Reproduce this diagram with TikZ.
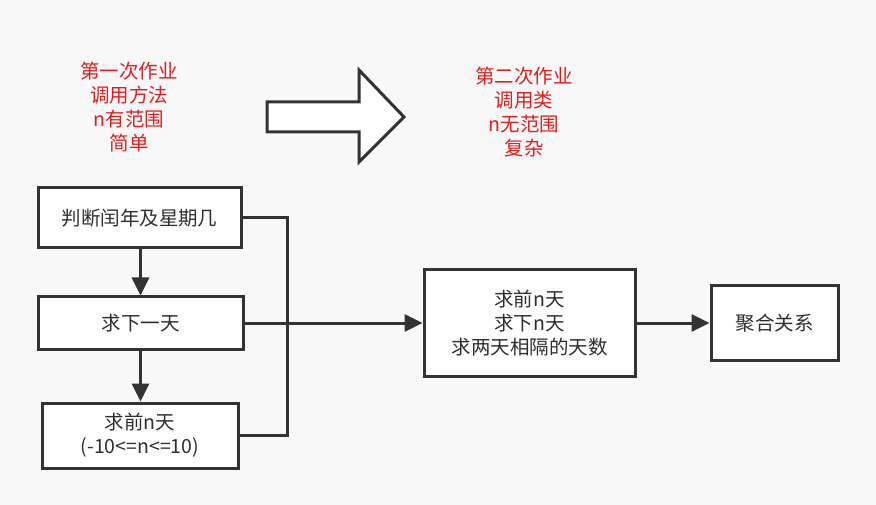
\documentclass[tikz,border=0pt]{standalone}
\usepackage{fontspec}
\setmainfont{Noto Sans CJK SC}
\usetikzlibrary{arrows.meta}
\definecolor{ln}{HTML}{333333}
\definecolor{rd}{HTML}{E51C1C}
\definecolor{bg}{HTML}{F8F8F8}
\tikzset{
  box/.style={draw=ln, fill=white, line width=3pt, align=center, inner sep=0pt,
    font=\fontsize{19.5}{24}\selectfont, text=ln!90!black},
  conn/.style={draw=ln, line width=3pt},
  arr/.style={conn, -{Triangle[length=18pt,width=17pt]}},
  note/.style={align=center, text=rd, font=\fontsize{19.5}{24}\selectfont}
}
\begin{document}
\begin{tikzpicture}[x=1pt,y=-1pt]
\fill[bg] (0,0) rectangle (876,505);
\useasboundingbox (0,0) rectangle (876,505);
% notes
\node[note] (n1) at (129,107) {第一次作业\\调用方法\\n有范围\\简单};
\node[note] (n2) at (524,112) {第二次作业\\调用类\\n无范围\\复杂};
% big arrow
\draw[conn, fill=white, line join=miter] (267,102) -- (359,102) -- (359,70) -- (404,117) -- (359,162) -- (359,132) -- (267,132) -- cycle;
% boxes
\node[box, minimum width=203pt, minimum height=60pt] (b1) at (139.5,218) {判断闰年及星期几};
\node[box, minimum width=205pt, minimum height=52pt] (b2) at (140.5,323) {求下一天};
\node[box, minimum width=196pt, minimum height=65pt] (b3) at (140,435.5) {求前n天\\(-10<=n<=10)};
\node[box, minimum width=211pt, minimum height=106pt] (b4) at (529.5,323) {求前n天\\求下n天\\求两天相隔的天数};
\node[box, minimum width=127pt, minimum height=74pt] (b5) at (774.5,323) {聚合关系};
% connectors
\coordinate (bus) at (287,323);
\draw[conn, line join=miter] (b1.east) -| (bus) |- (b3.east);
\draw[arr] (b2.north |- b1.south) -- (b2.north);
\draw[arr] (b2.south) -- (b2.south |- b3.north);
\draw[arr] (b2.east) -- (b4.west);
\draw[arr] (b4.east) -- (b5.west);
\end{tikzpicture}
\end{document}
